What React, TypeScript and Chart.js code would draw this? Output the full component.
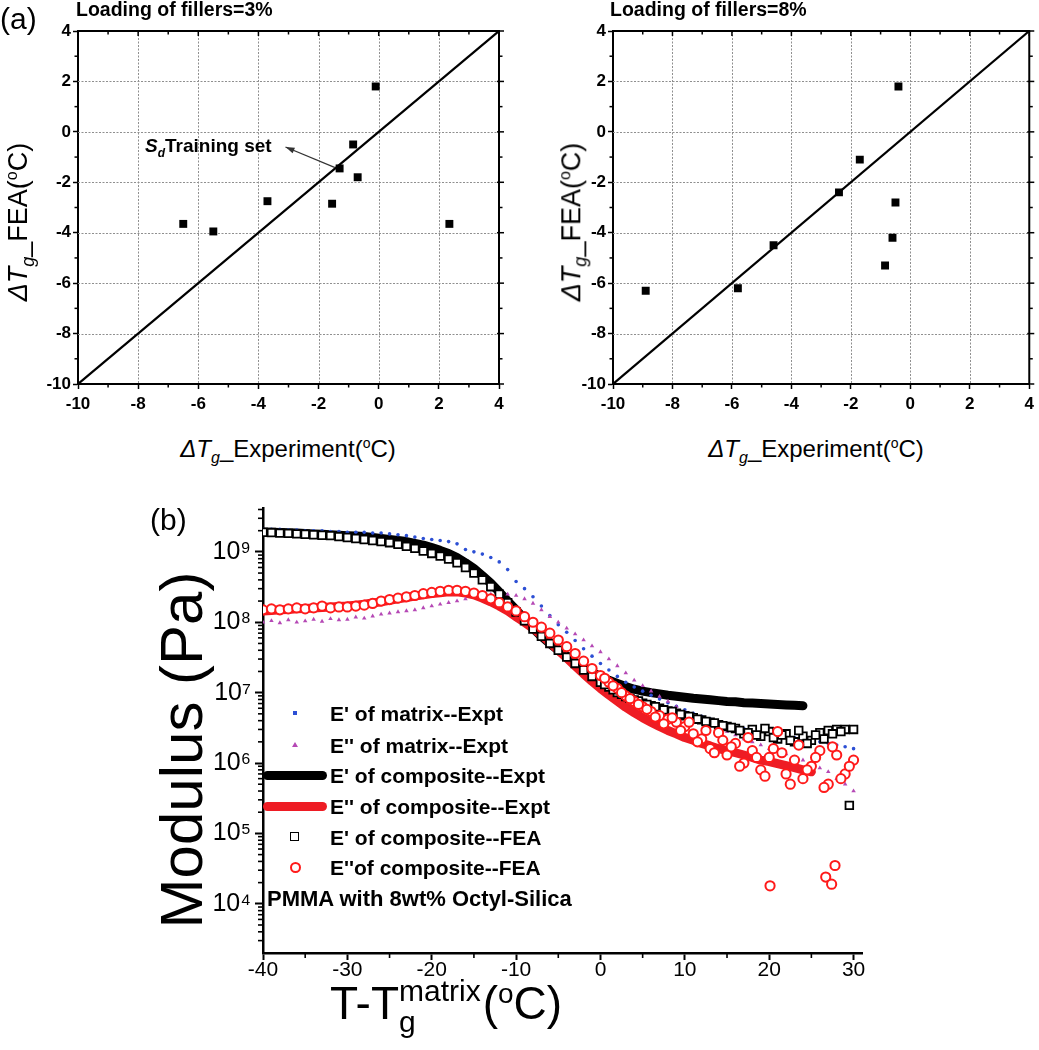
import React, { useEffect, useRef } from 'react';
import { Chart, registerables } from 'chart.js';

Chart.register(...registerables);

const FONT = 'Arial, "Liberation Sans", Helvetica, sans-serif';
Chart.defaults.font.family = FONT;
Chart.defaults.color = '#000';

// ---------------- (a) parity plots ----------------
const exptLoad3 = [-0.1, -0.85, -1.3, -0.7, -1.55, -3.7, -6.5, -5.5, 2.35];
const feaLoad3 = [1.8, -0.5, -1.45, -1.8, -2.85, -2.75, -3.65, -3.95, -3.65];
const exptLoad8 = [-0.4, -1.7, -2.4, -0.5, -0.6, -0.85, -4.6, -5.8, -8.9];
const feaLoad8 = [1.8, -1.1, -2.4, -2.8, -4.2, -5.3, -4.5, -6.2, -6.3];
const parityLine = [-10, 4];
const parityTicks = [-10, -8, -6, -4, -2, 0, 2, 4];
const parityMinorTicks = [-9, -7, -5, -3, -1, 1, 3];
const trainingArrow = { fromX: -1.45, fromY: -1.42, toX: -3.1, toY: -0.6 };

// ---------------- (b) modulus vs T - Tg ----------------
const tempC = [-40, -39, -38, -37, -36, -35, -34, -33, -32, -31, -30, -29, -28, -27, -26, -25, -24, -23, -22, -21,
  -20, -19, -18, -17, -16, -15, -14, -13, -12, -11, -10, -9, -8, -7, -6, -5, -4, -3, -2, -1,
  0, 1, 2, 3, 4, 5, 6, 7, 8, 9, 10, 11, 12, 13, 14, 15, 16, 17, 18, 19, 20, 21, 22, 23, 24, 25, 26, 27, 28, 29, 30];
const tempHalf = [0.5, 1.5, 2.5, 3.5, 4.5, 5.5, 6.5, 7.5, 8.5, 9.5, 10.5, 11.5, 12.5, 13.5, 14.5,
  15.5, 16.5, 17.5, 18.5, 19.5, 20.5, 21.5, 22.5, 23.5, 24.5, 25.5, 26.5, 27.5, 28.5, 29.5];

const eMatrixStorage = [
  2.1e9, 2.1e9, 2.1e9, 2.05e9, 2.05e9, 2.0e9, 2.0e9, 2.0e9, 1.95e9, 1.95e9,
  1.9e9, 1.9e9, 1.9e9, 1.85e9, 1.85e9, 1.8e9, 1.75e9, 1.7e9, 1.62e9, 1.55e9,
  1.5e9, 1.45e9, 1.4e9, 1.3e9, 1.08e9, 1.0e9, 9.3e8, 8.3e8, 7.2e8, 5.6e8,
  3.8e8, 3.0e8, 2.3e8, 1.7e8, 1.25e8, 9.2e7, 7.2e7, 5.5e7, 4.2e7, 3.3e7,
  2.6e7, 2.1e7, 1.7e7, 1.4e7, 1.2e7, 1.05e7, 9.2e6, 8.1e6, 7.2e6, 6.4e6,
  5.7e6, 5.1e6, 4.6e6, 4.2e6, 3.9e6, 3.6e6, 3.3e6, 3.1e6, 2.9e6, 2.7e6,
  2.6e6, 2.5e6, 2.4e6, 2.3e6, 2.2e6, 2.1e6, 2.0e6, 1.9e6, 1.8e6, 1.7e6, 1.6e6];

const eMatrixLoss = [
  1.0e8, 1.05e8, 0.98e8, 1.08e8, 1.0e8, 1.04e8, 1.1e8, 1.03e8, 1.12e8, 1.08e8,
  1.1e8, 1.18e8, 1.14e8, 1.22e8, 1.3e8, 1.35e8, 1.4e8, 1.45e8, 1.5e8, 1.6e8,
  1.7e8, 1.8e8, 1.9e8, 2.0e8, 2.15e8, 2.3e8, 2.4e8, 2.5e8, 2.55e8, 2.5e8,
  2.4e8, 2.15e8, 1.85e8, 1.5e8, 1.2e8, 1.0e8, 8.2e7, 6.8e7, 5.6e7, 4.6e7,
  3.8e7, 3.0e7, 2.4e7, 1.9e7, 1.5e7, 1.25e7, 1.05e7, 8.8e6, 7.5e6, 6.3e6,
  5.3e6, 4.6e6, 4.0e6, 3.5e6, 3.1e6, 2.8e6, 2.5e6, 2.2e6, 2.0e6, 1.8e6,
  1.6e6, 1.5e6, 1.35e6, 1.2e6, 1.1e6, 1.0e6, 8.5e5, 7.5e5, 6e5, 5e5, 4e5];

const eCompStorageExpt = [
  1.9e9, 1.9e9, 1.88e9, 1.87e9, 1.85e9, 1.83e9, 1.8e9, 1.78e9, 1.75e9, 1.72e9,
  1.7e9, 1.68e9, 1.65e9, 1.6e9, 1.55e9, 1.5e9, 1.45e9, 1.4e9, 1.32e9, 1.25e9,
  1.15e9, 1.05e9, 9.5e8, 8.3e8, 7.0e8, 5.8e8, 4.6e8, 3.6e8, 2.7e8, 2.0e8,
  1.5e8, 1.1e8, 8.2e7, 6.3e7, 5.0e7, 4.0e7, 3.3e7, 2.7e7, 2.3e7, 1.95e7,
  1.7e7, 1.5e7, 1.35e7, 1.22e7, 1.12e7, 1.05e7, 1.0e7, 9.6e6, 9.2e6, 8.9e6,
  8.6e6, 8.3e6, 8.1e6, 7.9e6, 7.7e6, 7.5e6, 7.4e6, 7.2e6, 7.1e6, 7.0e6,
  6.9e6, 6.8e6, 6.7e6, 6.6e6, 6.5e6];

const eCompLossExpt = [
  1.45e8, 1.47e8, 1.5e8, 1.52e8, 1.55e8, 1.57e8, 1.6e8, 1.62e8, 1.65e8, 1.67e8,
  1.7e8, 1.75e8, 1.8e8, 1.88e8, 1.95e8, 2.05e8, 2.15e8, 2.25e8, 2.35e8, 2.45e8,
  2.55e8, 2.62e8, 2.7e8, 2.7e8, 2.6e8, 2.45e8, 2.2e8, 1.95e8, 1.7e8, 1.45e8,
  1.2e8, 1.0e8, 8.2e7, 6.6e7, 5.2e7, 4.0e7, 3.1e7, 2.4e7, 1.85e7, 1.45e7,
  1.15e7, 9.3e6, 7.6e6, 6.2e6, 5.2e6, 4.4e6, 3.8e6, 3.3e6, 2.9e6, 2.6e6,
  2.3e6, 2.1e6, 1.9e6, 1.75e6, 1.6e6, 1.5e6, 1.4e6, 1.3e6, 1.2e6, 1.1e6,
  1.05e6, 9.8e5, 9.2e5, 8.6e5, 8.0e5, 7.5e5];

const eCompStorageFea = [
  1.9e9, 1.88e9, 1.85e9, 1.83e9, 1.8e9, 1.78e9, 1.75e9, 1.72e9, 1.7e9, 1.65e9,
  1.6e9, 1.55e9, 1.5e9, 1.45e9, 1.4e9, 1.35e9, 1.28e9, 1.2e9, 1.12e9, 1.03e9,
  9.5e8, 8.7e8, 7.9e8, 7.0e8, 6.0e8, 5.0e8, 4.0e8, 3.2e8, 2.5e8, 1.9e8,
  1.4e8, 1.05e8, 8.0e7, 6.3e7, 5.0e7, 4.0e7, 3.2e7, 2.6e7, 2.1e7, 1.7e7,
  1.4e7, 1.2e7, 1.0e7, 8.8e6, 7.9e6, 7.1e6, 6.5e6, 6.0e6, 5.5e6, 5.1e6,
  4.7e6, 4.4e6, 4.1e6, 3.8e6, 3.5e6, 3.3e6, 3.1e6, 2.6e6, 3.0e6, 2.4e6,
  2.8e6, 2.2e6, 2.6e6, 2.0e6, 2.4e6, 2.1e6, 2.7e6, 2.9e6, 3.0e6, 3.0e6, 3.0e6];
const eCompStorageFeaHalf = [
  1.3e7, 1.1e7, 9.5e6, 8.3e6, 7.6e6, 6.8e6, 6.3e6, 5.7e6, 5.4e6, 4.9e6,
  4.6e6, 4.2e6, 3.9e6, 3.7e6, 3.4e6, 3.2e6, 2.9e6, 2.7e6, 2.5e6, 3.1e6,
  2.3e6, 2.5e6, 2.1e6, 2.9e6, 1.9e6, 2.5e6, 2.2e6, 2.6e6, 2.8e6, 2.5e5];

const eCompLossFea = [
  1.5e8, 1.55e8, 1.5e8, 1.55e8, 1.6e8, 1.55e8, 1.6e8, 1.7e8, 1.6e8, 1.65e8,
  1.65e8, 1.7e8, 1.75e8, 1.85e8, 2.0e8, 2.1e8, 2.2e8, 2.3e8, 2.4e8, 2.55e8,
  2.65e8, 2.75e8, 2.85e8, 2.85e8, 2.75e8, 2.6e8, 2.4e8, 2.15e8, 1.9e8, 1.65e8,
  1.45e8, 1.2e8, 1.0e8, 8.5e7, 7.0e7, 5.6e7, 4.5e7, 3.6e7, 2.8e7, 2.2e7,
  1.75e7, 1.4e7, 1.15e7, 9.0e6, 7.5e6, 6.3e6, 5.4e6, 4.7e6, 4.2e6, 3.8e6,
  3.3e6, 2.6e6, 2.2e6, 1.6e6, 2.7e6, 1.3e6, 1.9e6, 1.0e6, 1.5e6, 8e5,
  1.2e6, 2.8e6, 7e5, 1.1e6, 6e5, 9e5, 1.5e6, 5e5, 1.3e6, 7e5, 1.1e6];
const eCompLossFeaHalf = [
  1.6e7, 1.25e7, 1.0e7, 8.2e6, 6.8e6, 5.8e6, 4.5e6, 3.6e6, 4.4e6, 2.9e6,
  3.8e6, 2.0e6, 2.9e6, 1.4e6, 2.1e6, 1.7e6, 9e5, 2.3e6, 1.2e6, 6.5e5,
  1.6e6, 1.4e6, 5e5, 1.8e6, 8e5, 1.2e6, 4.5e5, 1.7e6, 6e5, 9e5];
const tempLossOutlier = [20.1, 26.7, 27.4, 27.8];
const eLossOutlier = [1.8e4, 2.4e4, 1.9e4, 3.5e4];

const tempBlackLine = tempC.slice(0, 65);
const tempRedLine = tempC.slice(0, 66);
const modulusXTicks = [-40, -30, -20, -10, 0, 10, 20, 30];
const modulusXMinor = [-35, -25, -15, -5, 5, 15, 25];
const modulusYTicks = [1e4, 1e5, 1e6, 1e7, 1e8, 1e9];
const legendLabels = ["E' of matrix--Expt", "E'' of matrix--Expt", "E' of composite--Expt", "E'' of composite--Expt", "E' of composite--FEA", "E''of composite--FEA"];

const SUP: Record<number, string> = { 3: '³', 4: '⁴', 5: '⁵', 6: '⁶', 7: '⁷', 8: '⁸', 9: '⁹' };

const zip = (xs: number[], ys: number[]) => xs.map((x, i) => ({ x, y: ys[i] }));

function decorPlugin(o: any) {
  return {
    id: 'decor',
    beforeDatasetsDraw(chart: any) {
      if (!o.grid) return;
      const { ctx, chartArea: a } = chart;
      const xs = chart.scales.x, ys = chart.scales.y;
      ctx.save();
      ctx.strokeStyle = '#8f8f8f';
      ctx.lineWidth = 1;
      ctx.setLineDash([2, 1.5]);
      for (const v of o.xMajor) {
        const p = Math.round(xs.getPixelForValue(v)) + 0.5;
        if (p < a.left + 2 || p > a.right - 2) continue;
        ctx.beginPath(); ctx.moveTo(p, a.top); ctx.lineTo(p, a.bottom); ctx.stroke();
      }
      for (const v of o.yMajor) {
        const p = Math.round(ys.getPixelForValue(v)) + 0.5;
        if (p < a.top + 2 || p > a.bottom - 2) continue;
        ctx.beginPath(); ctx.moveTo(a.left, p); ctx.lineTo(a.right, p); ctx.stroke();
      }
      ctx.restore();
    },
    afterDraw(chart: any) {
      const { ctx, chartArea: a } = chart;
      const xs = chart.scales.x, ys = chart.scales.y;
      ctx.save();
      ctx.strokeStyle = '#000';
      const seg = (x1: number, y1: number, x2: number, y2: number, w: number) => {
        ctx.lineWidth = w; ctx.beginPath(); ctx.moveTo(x1, y1); ctx.lineTo(x2, y2); ctx.stroke();
      };
      for (const v of o.xMinor) {
        const p = xs.getPixelForValue(v);
        seg(p, a.bottom, p, a.bottom + o.minorLen, o.tickW);
        if (o.mirror) seg(p, a.top, p, a.top + o.minorLen, o.tickW);
      }
      for (const v of o.yMinor) {
        const p = ys.getPixelForValue(v);
        seg(a.left - o.minorLen, p, a.left, p, o.tickW);
        if (o.mirror) seg(a.right, p, a.right + o.minorLen, p, o.tickW);
      }
      if (o.mirror) {
        for (const v of o.xMajor) { const p = xs.getPixelForValue(v); seg(p, a.top, p, a.top + o.majorLen, o.tickW); }
        for (const v of o.yMajor) { const p = ys.getPixelForValue(v); seg(a.right - 2, p, a.right + o.majorLen, p, o.tickW); }
        seg(a.left - 1, a.top, a.right + 1, a.top, o.frameW);
        seg(a.right, a.top, a.right, a.bottom, o.frameW);
      }
      if (o.arrow) {
        const x1 = xs.getPixelForValue(o.arrow.fromX), y1 = ys.getPixelForValue(o.arrow.fromY);
        const x2 = xs.getPixelForValue(o.arrow.toX), y2 = ys.getPixelForValue(o.arrow.toY);
        ctx.strokeStyle = '#333'; ctx.fillStyle = '#333';
        seg(x1, y1, x2, y2, 1.2);
        const ang = Math.atan2(y2 - y1, x2 - x1);
        ctx.beginPath();
        ctx.moveTo(x2, y2);
        ctx.lineTo(x2 - 9 * Math.cos(ang) + 3 * Math.sin(ang), y2 - 9 * Math.sin(ang) - 3 * Math.cos(ang));
        ctx.lineTo(x2 - 9 * Math.cos(ang) - 3 * Math.sin(ang), y2 - 9 * Math.sin(ang) + 3 * Math.cos(ang));
        ctx.closePath(); ctx.fill();
      }
      ctx.restore();
    },
  };
}

function parityConfig(expt: number[], fea: number[], W: number, H: number, area: any, arrow: any) {
  const tickFont = { family: FONT, size: 17, weight: 'bold' as const };
  const axisCommon = {
    type: 'linear',
    min: -10,
    max: 4,
    afterBuildTicks: (s: any) => { s.ticks = parityTicks.map((v) => ({ value: v })); },
    ticks: { font: tickFont, color: '#000', padding: 2 },
    grid: { drawOnChartArea: false, drawTicks: true, tickLength: 5, tickColor: '#000', tickWidth: 1.5 },
    border: { display: true, color: '#000', width: 2 },
  };
  return {
    type: 'scatter',
    data: {
      datasets: [
        { data: zip(expt, fea), pointStyle: 'rect', pointRadius: 5.6, backgroundColor: '#000', borderColor: '#000', borderWidth: 0, order: 1 },
        { data: zip(parityLine, parityLine), showLine: true, borderColor: '#000', borderWidth: 2.2, pointRadius: 0, order: 2 },
      ],
    },
    options: {
      animation: false,
      responsive: false,
      events: [],
      layout: { padding: { left: 0, top: area.top, right: W - area.right, bottom: 0 } },
      plugins: { legend: { display: false }, tooltip: { enabled: false } },
      scales: {
        x: { ...axisCommon, ticks: { ...axisCommon.ticks, padding: 5 }, afterFit: (s: any) => { s.height = H - area.bottom; } },
        y: { ...axisCommon, afterFit: (s: any) => { s.width = area.left; } },
      },
    },
    plugins: [decorPlugin({ grid: true, xMinor: parityMinorTicks, yMinor: parityMinorTicks, xMajor: parityTicks, yMajor: parityTicks, mirror: true, majorLen: 5, minorLen: 3.5, tickW: 1.5, frameW: 2, arrow })],
  };
}

function modulusConfig(W: number, H: number, area: any) {
  const yMinor: number[] = [];
  for (let e = 3; e <= 9; e++) for (let m = 2; m <= 9; m++) { const v = m * Math.pow(10, e); if (v > 2000 && v < 4.2e9) yMinor.push(v); }
  return {
    type: 'scatter',
    data: {
      datasets: [
        { label: legendLabels[0], data: zip(tempC, eMatrixStorage), pointStyle: 'circle', pointRadius: 1.8, backgroundColor: '#2c4fd4', borderWidth: 0, order: 4 },
        { label: legendLabels[1], data: zip(tempC, eMatrixLoss), pointStyle: 'triangle', pointRadius: 2.6, backgroundColor: '#b548b5', borderWidth: 0, order: 3 },
        { label: legendLabels[2], data: zip(tempBlackLine, eCompStorageExpt), showLine: true, borderColor: '#000', borderWidth: 9, pointRadius: 0, borderCapStyle: 'round', borderJoinStyle: 'round', order: 6 },
        { label: legendLabels[3], data: zip(tempRedLine, eCompLossExpt), showLine: true, borderColor: '#ee1c24', borderWidth: 9, pointRadius: 0, borderCapStyle: 'round', borderJoinStyle: 'round', order: 5 },
        { label: legendLabels[4], data: [...zip(tempC, eCompStorageFea), ...zip(tempHalf, eCompStorageFeaHalf)], pointStyle: 'rect', pointRadius: 5.4, backgroundColor: '#fff', borderColor: '#000', borderWidth: 1.8, order: 2 },
        { label: legendLabels[5], data: [...zip(tempC, eCompLossFea), ...zip(tempHalf, eCompLossFeaHalf), ...zip(tempLossOutlier, eLossOutlier)], pointStyle: 'circle', pointRadius: 4.6, backgroundColor: '#fff', borderColor: '#ff1a1a', borderWidth: 2, order: 1 },
      ],
    },
    options: {
      animation: false,
      responsive: false,
      events: [],
      layout: { padding: { left: 0, top: area.top, right: W - area.right, bottom: 0 } },
      plugins: { legend: { display: false }, tooltip: { enabled: false } },
      scales: {
        x: {
          type: 'linear', min: -40, max: 31,
          afterBuildTicks: (s: any) => { s.ticks = modulusXTicks.map((v) => ({ value: v })); },
          afterFit: (s: any) => { s.height = H - area.bottom; },
          ticks: { font: { family: FONT, size: 21 }, color: '#000', padding: -2 },
          grid: { drawOnChartArea: false, drawTicks: true, tickLength: 7, tickColor: '#000', tickWidth: 2 },
          border: { display: true, color: '#000', width: 2.5 },
        },
        y: {
          type: 'logarithmic', min: 2000, max: 4.2e9,
          afterBuildTicks: (s: any) => { s.ticks = modulusYTicks.map((v) => ({ value: v })); },
          afterFit: (s: any) => { s.width = area.left; },
          ticks: { font: { family: FONT, size: 25 }, color: '#000', padding: 4, callback: (v: any) => '10' + SUP[Math.round(Math.log10(Number(v)))] },
          grid: { drawOnChartArea: false, drawTicks: true, tickLength: 8, tickColor: '#000', tickWidth: 2 },
          border: { display: true, color: '#000', width: 2.5 },
        },
      },
    },
    plugins: [decorPlugin({ grid: false, xMinor: modulusXMinor, yMinor, xMajor: [], yMajor: [], mirror: false, majorLen: 8, minorLen: 5, tickW: 1.6, frameW: 2.5 })],
  };
}

function ChartCanvas({ build, left, top, width, height }: any) {
  const ref = useRef<HTMLCanvasElement>(null);
  useEffect(() => {
    const chart = new Chart(ref.current as HTMLCanvasElement, build() as any);
    return () => chart.destroy();
  }, []);
  return <canvas ref={ref} width={width} height={height} style={{ position: 'absolute', left, top, width, height }} />;
}

const abs = (left: number, top: number, extra: any = {}) => ({ position: 'absolute' as const, left, top, whiteSpace: 'nowrap' as const, ...extra });

function ParityXTitle({ cx }: { cx: number }) {
  return (
    <div style={abs(cx - 150, 431, { width: 300, textAlign: 'center', fontSize: 24, lineHeight: '24px' })}>
      <i>ΔT</i><sub style={{ fontSize: 16 }}><i>g</i></sub>_Experiment(<sup style={{ fontSize: 14 }}>o</sup>C)
    </div>
  );
}

function ParityYTitle({ cx }: { cx: number }) {
  return (
    <div style={abs(cx, 222, { fontSize: 27, lineHeight: '27px', transform: 'translate(-50%, -50%) rotate(-90deg)' })}>
      <i>ΔT</i><sub style={{ fontSize: 18 }}><i>g</i></sub>_FEA(<sup style={{ fontSize: 16 }}>o</sup>C)
    </div>
  );
}

const legendRowY = [713, 745, 775, 806, 837, 867];

function LegendSymbol({ i, cy }: { i: number; cy: number }) {
  if (i === 0) return <div style={abs(293, cy - 2, { width: 4, height: 4, background: '#2c4fd4' })} />;
  if (i === 1) return <div style={abs(292, cy - 3, { width: 0, height: 0, borderLeft: '3px solid transparent', borderRight: '3px solid transparent', borderBottom: '5px solid #b548b5' })} />;
  if (i === 2) return <div style={abs(263, cy - 4.5, { width: 64, height: 9, borderRadius: 4.5, background: '#000' })} />;
  if (i === 3) return <div style={abs(263, cy - 4.5, { width: 64, height: 9, borderRadius: 4.5, background: '#ee1c24' })} />;
  if (i === 4) return <div style={abs(290, cy - 5, { width: 7, height: 7, border: '1.8px solid #000', background: '#fff' })} />;
  return <div style={abs(290, cy - 5, { width: 7, height: 7, border: '2px solid #ff1a1a', borderRadius: '50%', background: '#fff' })} />;
}

export default function App() {
  return (
    <div style={{ position: 'absolute', left: 0, top: 0, width: 1039, height: 1050, background: '#fff', fontFamily: FONT, color: '#000', overflow: 'hidden' }}>
      <ChartCanvas build={() => parityConfig(exptLoad3, feaLoad3, 520, 420, { left: 78, top: 31, right: 499, bottom: 384 }, trainingArrow)} left={0} top={0} width={520} height={420} />
      <ChartCanvas build={() => parityConfig(exptLoad8, feaLoad8, 504, 420, { left: 78, top: 31, right: 498, bottom: 384 }, null)} left={535} top={0} width={504} height={420} />
      <ChartCanvas build={() => modulusConfig(889, 530, { left: 113, top: 28, right: 712, bottom: 473 })} left={150} top={480} width={889} height={530} />

      <div style={abs(0, 2, { fontSize: 30, lineHeight: '34px' })}>(a)</div>
      <div style={abs(76, -1, { fontSize: 19.5, fontWeight: 'bold', lineHeight: '20px' })}>Loading of fillers=3%</div>
      <div style={abs(610, -1, { fontSize: 19.5, fontWeight: 'bold', lineHeight: '20px' })}>Loading of fillers=8%</div>
      <ParityXTitle cx={288} />
      <ParityXTitle cx={816} />
      <ParityYTitle cx={20} />
      <ParityYTitle cx={573} />
      <div style={abs(145, 136, { fontSize: 19, fontWeight: 'bold', lineHeight: '20px' })}>
        <i>S</i><sub style={{ fontSize: 12 }}><i>d</i></sub>Training set
      </div>

      <div style={abs(150, 503, { fontSize: 30, lineHeight: '34px' })}>(b)</div>
      <div style={abs(182, 750, { fontSize: 60, lineHeight: '60px', transform: 'translate(-50%, -50%) rotate(-90deg)' })}>Modulus (Pa)</div>
      <div style={abs(330, 969, { fontSize: 46, lineHeight: '50px' })}>
        T-T
        <span style={{ display: 'inline-block', position: 'relative', fontSize: 30, verticalAlign: '0.6em', lineHeight: '30px', marginRight: 2 }}>
          matrix
          <span style={{ position: 'absolute', left: 0, top: 31 }}>g</span>
        </span>
        (<sup style={{ fontSize: 28 }}>o</sup>C)
      </div>

      {legendLabels.map((lab, i) => (
        <React.Fragment key={lab}>
          <LegendSymbol i={i} cy={legendRowY[i]} />
          <div style={abs(330, legendRowY[i] - 11.5, { fontSize: 21, fontWeight: 'bold', lineHeight: '23px' })}>{lab}</div>
        </React.Fragment>
      ))}
      <div style={abs(267, 886.5, { fontSize: 22, fontWeight: 'bold', lineHeight: '23px' })}>PMMA with 8wt% Octyl-Silica</div>
    </div>
  );
}
